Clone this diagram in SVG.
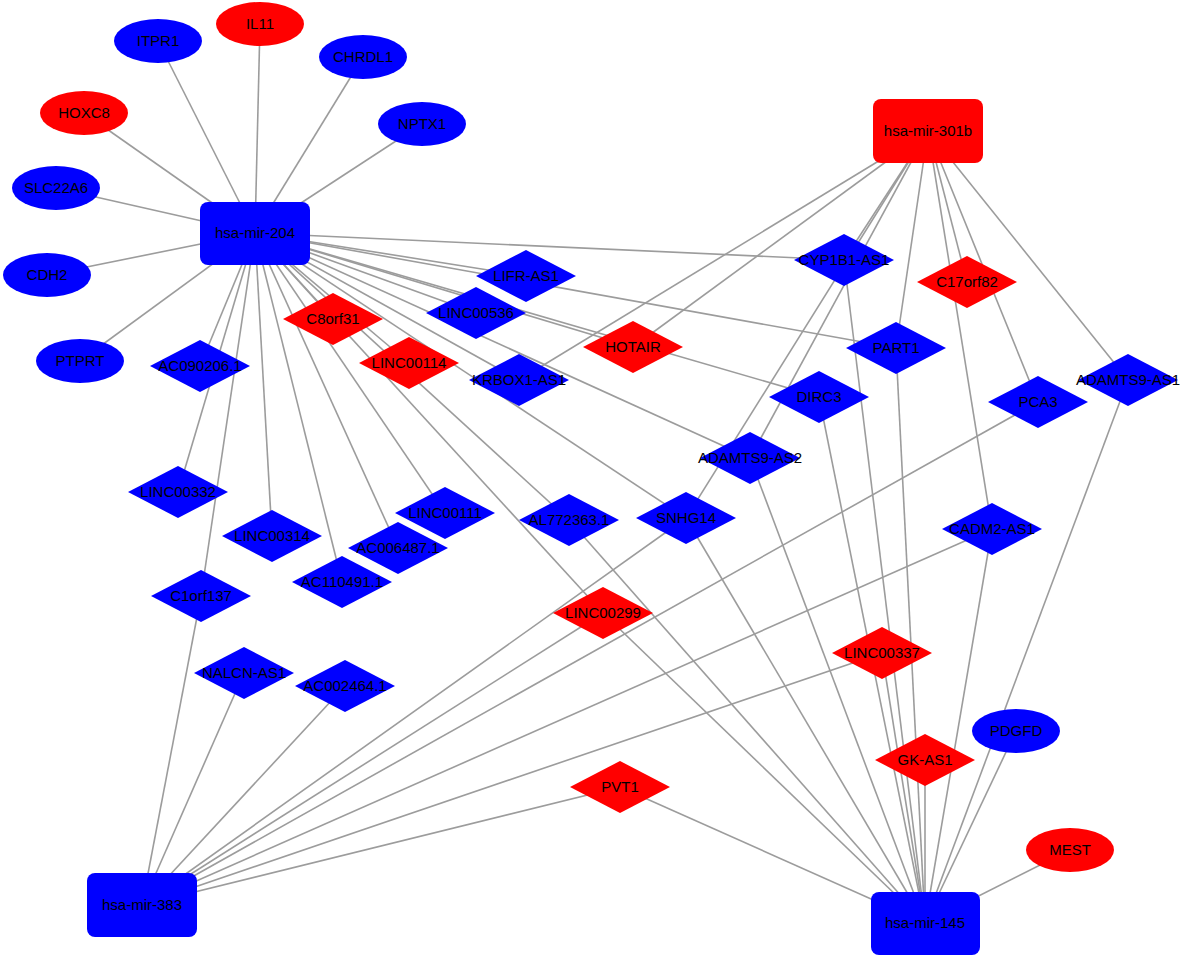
<svg xmlns="http://www.w3.org/2000/svg" width="1182" height="958" viewBox="0 0 1182 958">
<style>
.e{stroke:#9c9c9c;stroke-width:1.6;fill:none}
.b{fill:#0000ff}
.r{fill:#ff0000}
text{font-family:"Liberation Sans",Arial,sans-serif;font-size:15px;fill:#000;text-anchor:middle}
</style>
<defs>
<polygon id="dm" points="-50,0 0,-26 50,0 0,26"/>
</defs>
<rect width="1182" height="958" fill="#fff"/>
<g id="edges" class="e">
<!-- hsa-mir-204 -->
<line x1="255" y1="233" x2="158" y2="41"/>
<line x1="255" y1="233" x2="260" y2="24"/>
<line x1="255" y1="233" x2="363" y2="57"/>
<line x1="255" y1="233" x2="84" y2="113"/>
<line x1="255" y1="233" x2="422" y2="124"/>
<line x1="255" y1="233" x2="56" y2="188"/>
<line x1="255" y1="233" x2="47" y2="275"/>
<line x1="255" y1="233" x2="80" y2="361"/>
<line x1="255" y1="233" x2="200" y2="366"/>
<line x1="255" y1="233" x2="178" y2="492"/>
<line x1="255" y1="233" x2="201" y2="596"/>
<line x1="255" y1="233" x2="272" y2="536"/>
<line x1="255" y1="233" x2="342" y2="582"/>
<line x1="255" y1="233" x2="398" y2="548"/>
<line x1="255" y1="233" x2="445" y2="513"/>
<line x1="255" y1="233" x2="333" y2="319"/>
<line x1="255" y1="233" x2="409" y2="363"/>
<line x1="255" y1="233" x2="603" y2="613"/>
<line x1="255" y1="233" x2="569" y2="520"/>
<line x1="255" y1="233" x2="519" y2="380"/>
<line x1="255" y1="233" x2="686" y2="518"/>
<line x1="255" y1="233" x2="750" y2="458"/>
<line x1="255" y1="233" x2="633" y2="347"/>
<line x1="255" y1="233" x2="476" y2="313"/>
<line x1="255" y1="233" x2="526" y2="276"/>
<line x1="255" y1="233" x2="819" y2="397"/>
<line x1="255" y1="233" x2="896" y2="348"/>
<line x1="255" y1="233" x2="844" y2="260"/>
<!-- hsa-mir-301b -->
<line x1="928" y1="131" x2="519" y2="380"/>
<line x1="928" y1="131" x2="633" y2="347"/>
<line x1="928" y1="131" x2="844" y2="260"/>
<line x1="928" y1="131" x2="750" y2="458"/>
<line x1="928" y1="131" x2="686" y2="518"/>
<line x1="928" y1="131" x2="896" y2="348"/>
<line x1="928" y1="131" x2="967" y2="282"/>
<line x1="928" y1="131" x2="992" y2="529"/>
<line x1="928" y1="131" x2="1038" y2="402"/>
<line x1="928" y1="131" x2="1128" y2="380"/>
<!-- hsa-mir-383 -->
<line x1="142" y1="905" x2="201" y2="596"/>
<line x1="142" y1="905" x2="244" y2="673"/>
<line x1="142" y1="905" x2="345" y2="686"/>
<line x1="142" y1="905" x2="686" y2="518"/>
<line x1="142" y1="905" x2="603" y2="613"/>
<line x1="142" y1="905" x2="1038" y2="402"/>
<line x1="142" y1="905" x2="992" y2="529"/>
<line x1="142" y1="905" x2="882" y2="653"/>
<line x1="142" y1="905" x2="620" y2="787"/>
<!-- hsa-mir-145 -->
<line x1="925" y1="923" x2="620" y2="787"/>
<line x1="925" y1="923" x2="925" y2="760"/>
<line x1="925" y1="923" x2="882" y2="653"/>
<line x1="925" y1="923" x2="1016" y2="731"/>
<line x1="925" y1="923" x2="1070" y2="850"/>
<line x1="925" y1="923" x2="603" y2="613"/>
<line x1="925" y1="923" x2="569" y2="520"/>
<line x1="925" y1="923" x2="686" y2="518"/>
<line x1="925" y1="923" x2="750" y2="458"/>
<line x1="925" y1="923" x2="819" y2="397"/>
<line x1="925" y1="923" x2="844" y2="260"/>
<line x1="925" y1="923" x2="896" y2="348"/>
<line x1="925" y1="923" x2="992" y2="529"/>
<line x1="925" y1="923" x2="1128" y2="380"/>
</g>
<g id="n-ITPR1"><ellipse class="b" cx="158" cy="41" rx="44" ry="22"/><text x="158" y="46">ITPR1</text></g>
<g id="n-IL11"><ellipse class="r" cx="260" cy="24" rx="44" ry="22"/><text x="260" y="29">IL11</text></g>
<g id="n-CHRDL1"><ellipse class="b" cx="363" cy="57" rx="44" ry="22"/><text x="363" y="62">CHRDL1</text></g>
<g id="n-HOXC8"><ellipse class="r" cx="84" cy="113" rx="44" ry="22"/><text x="84" y="118">HOXC8</text></g>
<g id="n-NPTX1"><ellipse class="b" cx="422" cy="124" rx="44" ry="22"/><text x="422" y="129">NPTX1</text></g>
<g id="n-SLC22A6"><ellipse class="b" cx="56" cy="188" rx="44" ry="22"/><text x="56" y="193">SLC22A6</text></g>
<g id="n-CDH2"><ellipse class="b" cx="47" cy="275" rx="44" ry="22"/><text x="47" y="280">CDH2</text></g>
<g id="n-PTPRT"><ellipse class="b" cx="80" cy="361" rx="44" ry="22"/><text x="80" y="366">PTPRT</text></g>
<g id="n-PDGFD"><ellipse class="b" cx="1016" cy="731" rx="44" ry="22"/><text x="1016" y="736">PDGFD</text></g>
<g id="n-MEST"><ellipse class="r" cx="1070" cy="850" rx="44" ry="22"/><text x="1070" y="855">MEST</text></g>

<g id="n-AC090206.1"><use href="#dm" x="200" y="366" class="b"/><text x="200" y="371">AC090206.1</text></g>
<g id="n-C8orf31"><use href="#dm" x="333" y="319" class="r"/><text x="333" y="324">C8orf31</text></g>
<g id="n-LINC00114"><use href="#dm" x="409" y="363" class="r"/><text x="409" y="368">LINC00114</text></g>
<g id="n-LINC00536"><use href="#dm" x="476" y="313" class="b"/><text x="476" y="318">LINC00536</text></g>
<g id="n-LIFR-AS1"><use href="#dm" x="526" y="276" class="b"/><text x="526" y="281">LIFR-AS1</text></g>
<g id="n-HOTAIR"><use href="#dm" x="633" y="347" class="r"/><text x="633" y="352">HOTAIR</text></g>
<g id="n-KRBOX1-AS1"><use href="#dm" x="519" y="380" class="b"/><text x="519" y="385">KRBOX1-AS1</text></g>
<g id="n-DIRC3"><use href="#dm" x="819" y="397" class="b"/><text x="819" y="402">DIRC3</text></g>
<g id="n-ADAMTS9-AS2"><use href="#dm" x="750" y="458" class="b"/><text x="750" y="463">ADAMTS9-AS2</text></g>
<g id="n-SNHG14"><use href="#dm" x="686" y="518" class="b"/><text x="686" y="523">SNHG14</text></g>
<g id="n-AL772363.1"><use href="#dm" x="569" y="520" class="b"/><text x="569" y="525">AL772363.1</text></g>
<g id="n-LINC00111"><use href="#dm" x="445" y="513" class="b"/><text x="445" y="518">LINC00111</text></g>
<g id="n-AC006487.1"><use href="#dm" x="398" y="548" class="b"/><text x="398" y="553">AC006487.1</text></g>
<g id="n-AC110491.1"><use href="#dm" x="342" y="582" class="b"/><text x="342" y="587">AC110491.1</text></g>
<g id="n-LINC00314"><use href="#dm" x="272" y="536" class="b"/><text x="272" y="541">LINC00314</text></g>
<g id="n-LINC00332"><use href="#dm" x="178" y="492" class="b"/><text x="178" y="497">LINC00332</text></g>
<g id="n-C1orf137"><use href="#dm" x="201" y="596" class="b"/><text x="201" y="601">C1orf137</text></g>
<g id="n-NALCN-AS1"><use href="#dm" x="244" y="673" class="b"/><text x="244" y="678">NALCN-AS1</text></g>
<g id="n-AC002464.1"><use href="#dm" x="345" y="686" class="b"/><text x="345" y="691">AC002464.1</text></g>
<g id="n-CYP1B1-AS1"><use href="#dm" x="844" y="260" class="b"/><text x="844" y="265">CYP1B1-AS1</text></g>
<g id="n-C17orf82"><use href="#dm" x="967" y="282" class="r"/><text x="967" y="287">C17orf82</text></g>
<g id="n-PART1"><use href="#dm" x="896" y="348" class="b"/><text x="896" y="353">PART1</text></g>
<g id="n-PCA3"><use href="#dm" x="1038" y="402" class="b"/><text x="1038" y="407">PCA3</text></g>
<g id="n-ADAMTS9-AS1"><use href="#dm" x="1128" y="380" class="b"/><text x="1128" y="385">ADAMTS9-AS1</text></g>
<g id="n-CADM2-AS1"><use href="#dm" x="992" y="529" class="b"/><text x="992" y="534">CADM2-AS1</text></g>
<g id="n-LINC00299"><use href="#dm" x="603" y="613" class="r"/><text x="603" y="618">LINC00299</text></g>
<g id="n-LINC00337"><use href="#dm" x="882" y="653" class="r"/><text x="882" y="658">LINC00337</text></g>
<g id="n-GK-AS1"><use href="#dm" x="925" y="760" class="r"/><text x="925" y="765">GK-AS1</text></g>
<g id="n-PVT1"><use href="#dm" x="620" y="787" class="r"/><text x="620" y="792">PVT1</text></g>

<g id="n-hsa-mir-204"><rect class="b" x="200" y="202" width="110" height="63" rx="8"/><text x="255" y="238">hsa-mir-204</text></g>
<g id="n-hsa-mir-301b"><rect class="r" x="873" y="99" width="110" height="64" rx="8"/><text x="928" y="136">hsa-mir-301b</text></g>
<g id="n-hsa-mir-383"><rect class="b" x="87" y="873" width="110" height="64" rx="8"/><text x="142" y="910">hsa-mir-383</text></g>
<g id="n-hsa-mir-145"><rect class="b" x="871" y="892" width="109" height="63" rx="8"/><text x="925" y="928">hsa-mir-145</text></g>
</svg>
